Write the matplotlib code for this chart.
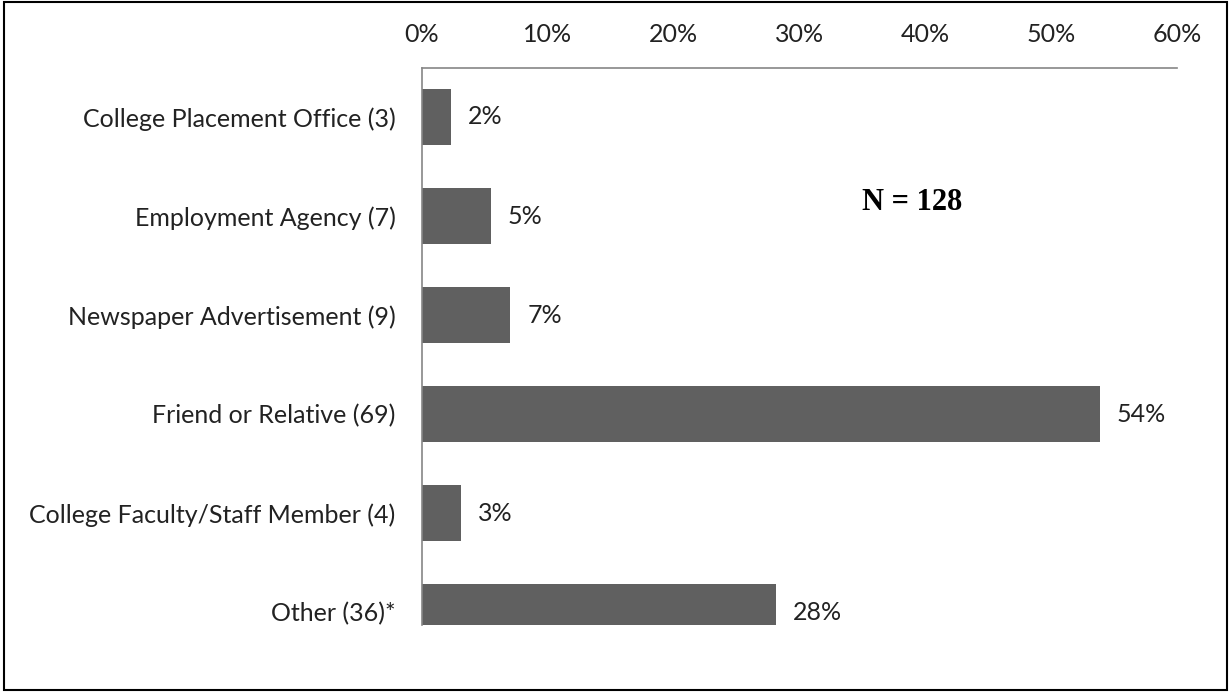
import numpy as np
import matplotlib.pyplot as plt
from matplotlib.patches import Rectangle

# referral sources and respondent counts
sources = [
    "College Placement Office (3)",
    "Employment Agency (7)",
    "Newspaper Advertisement (9)",
    "Friend or Relative (69)",
    "College Faculty/Staff Member (4)",
    "Other (36)*",
]
counts = [3, 7, 9, 69, 4, 36]
total = 128
ticks = [0, 10, 20, 30, 40, 50, 60]

pct = np.array(counts) / total * 100

fig = plt.figure(figsize=(12.31, 6.92), dpi=100)
ax = fig.add_axes([0.3428, 0.0968, 0.6133, 0.805])

y = np.arange(len(sources))
ax.barh(y, pct, height=0.566, color="#606060")

for yi, p in zip(y, pct):
    ax.annotate(f"{p:.0f}%", (p, yi), xytext=(12, 0), textcoords="offset points",
                va="center", ha="left", fontsize=18, family="Lato", color="#222222")

ax.set_xlim(0, 60)
ax.set_ylim(5.13, -0.495)
ax.set_xticks(ticks)
ax.set_xticklabels([f"{t}%" for t in ticks], fontsize=18, family="Lato", color="#222222")
ax.xaxis.tick_top()
ax.set_yticks(y)
ax.set_yticklabels(sources, fontsize=18, family="Lato", color="#222222")
ax.tick_params(length=0, pad=19)
ax.tick_params(axis="x", pad=16)

for side in ["right", "bottom"]:
    ax.spines[side].set_visible(False)
for side in ["left", "top"]:
    ax.spines[side].set_color("#868686")
    ax.spines[side].set_linewidth(1.2)

ax.text(0.583, 0.758, "N = 128", transform=ax.transAxes, fontsize=22,
        fontweight="bold", family="Liberation Serif", ha="left", va="center")

# outer border of the chart area
fig.patches.append(Rectangle((0.003, 0.003), 0.994, 0.994, transform=fig.transFigure,
                             fill=False, edgecolor="black", linewidth=1.5))

fig.savefig("out.png", dpi=100)
